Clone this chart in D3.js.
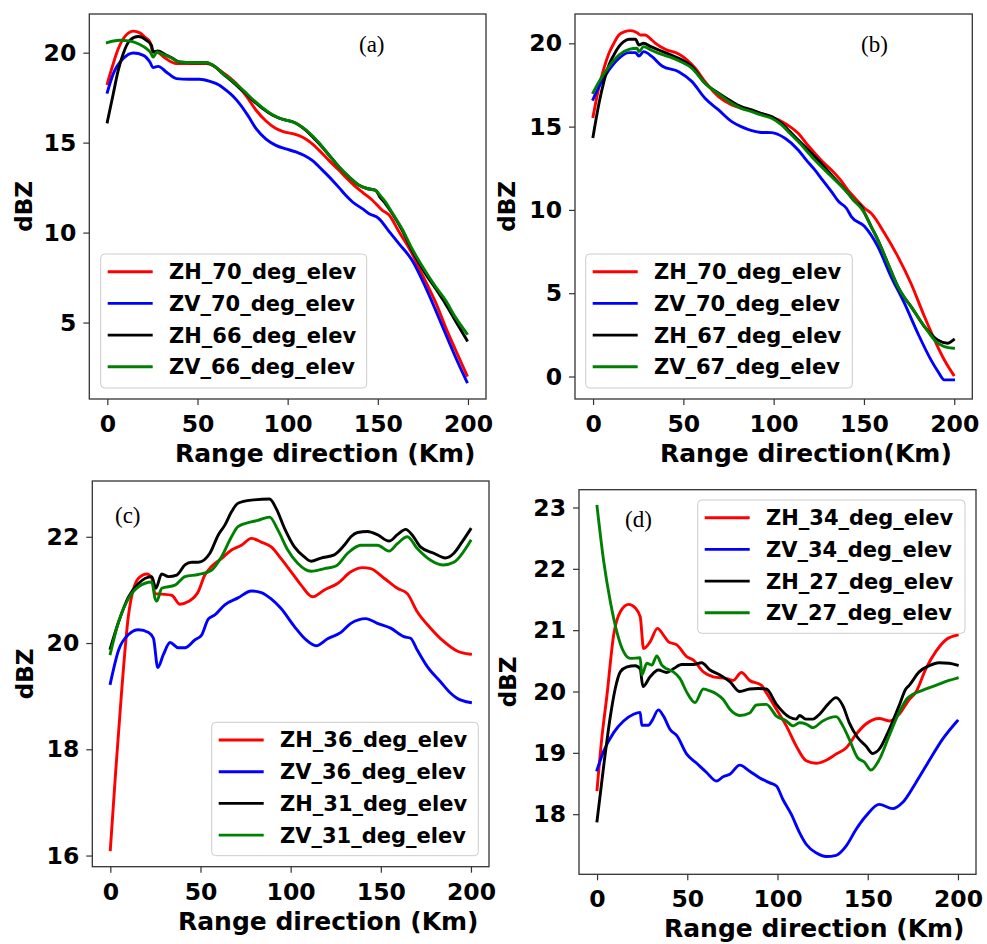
<!DOCTYPE html>
<html><head><meta charset="utf-8">
<script src="https://cdn.jsdelivr.net/npm/d3@7/dist/d3.min.js"></script>
<style>body{margin:0;background:#fff}svg{display:block}</style>
</head><body>
<svg id="chart" width="987" height="944"></svg>
<script>
// ---------- DATA (km, dBZ) ----------
const xTicks = [0, 50, 100, 150, 200];

// (a)
const aZH70 = [[0,18.28],[3,19.3],[6,20.2],[9,20.8],[14.4,21.2],[18,21.1],[21,20.85],[23.6,20.6],[25.4,20.04],[28,20.0],[32,19.7],[38.3,19.39],[45,19.39],[54.9,19.39],[60,19.2],[64,18.9],[68,18.6],[71.5,18.28],[77,17.6],[82.5,16.8],[88,16.2],[93.5,15.78],[98,15.6],[102.8,15.5],[106,15.4],[110,15.2],[114,14.9],[117.5,14.57],[123,14.0],[128.5,13.46],[133,13.0],[137.8,12.54],[142,12.2],[147,11.8],[152.5,11.24],[156,11.0],[162,10.0],[169,8.83],[173,8.0],[178,6.98],[183,5.9],[187.5,4.76],[193,3.5],[199.4,2.07]];
const aZV70 = [[0,17.8],[3.3,18.83],[8.8,19.67],[14.4,19.98],[20,19.85],[23.6,19.48],[25.4,19.17],[28.2,19.24],[33,18.9],[38.3,18.56],[45,18.52],[51.2,18.52],[57,18.4],[62.2,18.19],[66,17.9],[70,17.55],[73.3,17.17],[78,16.5],[82.5,15.78],[88,15.2],[93.5,14.85],[99,14.65],[104.6,14.48],[109,14.3],[113.8,14.0],[119,13.5],[124.9,12.9],[128.5,12.5],[132.2,12.07],[136,11.7],[141.4,11.33],[145,11.06],[150.6,10.78],[156,10.1],[161.7,9.39],[169,8.46],[176.4,6.98],[182,5.7],[187.5,4.39],[193,3.1],[199.4,1.7]];
const aZH66 = [[0,16.15],[3.3,17.72],[6,19.0],[8.8,19.94],[12.5,20.69],[17.1,20.9],[21.7,20.69],[24.5,20.4],[25.4,20.04],[28,20.1],[32,19.9],[36,19.7],[40,19.48],[47,19.44],[55,19.44],[60,19.2],[64,18.83],[68,18.5],[71.5,18.19],[76,17.8],[80.7,17.35],[86,16.9],[91.7,16.52],[97,16.3],[102.8,16.15],[106,16.0],[110,15.69],[114,15.3],[117.5,14.94],[123,14.3],[128.5,13.65],[134,13.1],[139.6,12.63],[144,12.45],[148.8,12.35],[151,12.0],[154.3,11.6],[158,11.06],[163.5,10.13],[169,9.02],[176.4,7.72],[182,6.9],[187.5,6.05],[193,5.1],[199.4,4.02]];
const aZV66 = [[0,20.56],[3.5,20.65],[7,20.69],[10.5,20.67],[14.4,20.6],[18,20.45],[21.7,20.22],[24,20.0],[25.4,19.76],[27.6,20.04],[31,19.9],[34.6,19.76],[40,19.48],[47,19.45],[55,19.44],[60,19.2],[64,18.85],[68,18.55],[71.5,18.25],[76,17.85],[80.7,17.4],[86,16.95],[91.7,16.55],[97,16.3],[102.8,16.15],[106,16.0],[110,15.72],[114,15.35],[117.5,14.98],[123,14.3],[128.5,13.65],[134,13.1],[139.6,12.63],[144,12.45],[148.8,12.35],[151,12.1],[154.3,11.7],[158,11.1],[163.5,10.2],[169,9.1],[176.4,7.85],[182,7.0],[187.5,6.25],[193,5.3],[199.4,4.39]];

// (b)
const bZH70 = [[0,15.6],[3.3,17.4],[6,18.5],[8.8,19.4],[11.5,20.0],[14.3,20.5],[17.5,20.7],[20.8,20.76],[24.4,20.64],[26.3,20.5],[29,20.5],[31.5,20.3],[34.6,20.0],[40,19.64],[47.4,19.36],[51,19.1],[56.6,18.5],[62,17.7],[69.5,16.8],[76.8,16.3],[86,16.0],[95.2,15.7],[104.4,15.3],[109,15.0],[113.6,14.6],[118,14.0],[122.8,13.4],[127,12.9],[132,12.4],[137,11.8],[141,11.2],[146,10.6],[150.4,10.1],[154,9.8],[161.4,8.6],[168.8,7.2],[176,5.6],[183.5,3.6],[190.8,1.8],[195,0.9],[199.6,0.1]];
const bZV70 = [[0,16.64],[3.3,17.4],[8.8,18.4],[14.3,19.1],[19.9,19.44],[23.5,19.44],[25.4,19.24],[28,19.5],[32.7,19.2],[38.2,18.64],[47.4,18.3],[54.8,17.7],[62,16.7],[69.5,16.0],[76.8,15.3],[82,15.0],[87.9,14.76],[93,14.65],[98.9,14.64],[106.3,14.3],[113.6,13.6],[118,13.0],[122.8,12.4],[127,11.8],[132,11.1],[136,10.5],[140.3,10.1],[143,9.6],[150.4,9.0],[157.7,7.8],[165,6.0],[172.4,4.4],[179.8,2.6],[187.1,1.0],[191,0.3],[194.5,-0.2],[199.6,-0.2]];
const bZH67 = [[0,14.4],[3.3,16.4],[6,17.7],[8.8,18.7],[11.5,19.3],[14.3,19.8],[17,20.1],[19.9,20.24],[23.5,20.24],[25.4,19.9],[28,20.0],[32,19.8],[36.4,19.6],[42,19.35],[47.4,19.1],[54.8,18.6],[62,17.6],[69.5,17.0],[76.8,16.5],[82,16.2],[87.9,16.0],[93,15.8],[98.9,15.6],[104.4,15.2],[109,14.7],[113.6,14.2],[122.8,13.2],[132,12.1],[141.2,11.0],[145,10.5],[148.5,10.2],[150.4,9.8],[154,9.0],[157.7,8.2],[163.2,6.8],[168.8,5.4],[172,4.8],[176.1,4.2],[183.5,3.0],[190.8,2.2],[196.3,2.0],[199.6,2.2]];
const bZV67 = [[0,17.04],[3.3,17.7],[8.8,18.6],[14.3,19.3],[19.9,19.64],[24.4,19.7],[25.4,19.5],[28,19.8],[32,19.6],[36.4,19.4],[42,19.2],[47.4,18.96],[54.8,18.5],[62,17.6],[69.5,16.96],[76.8,16.4],[82,16.1],[87.9,15.9],[93,15.7],[98.9,15.5],[104.4,15.1],[109,14.6],[113.6,14.1],[122.8,13.0],[132,12.0],[141.2,11.0],[145,10.5],[148.5,10.1],[150.4,9.8],[154,9.0],[157.7,8.2],[163.2,6.8],[168.8,5.4],[172,4.8],[176.1,4.2],[183.5,3.0],[190.8,2.0],[194.5,1.8],[199.6,1.7]];

// (c)
const cZH36 = [[0,16.11],[3,17.6],[6.4,19.15],[10.1,20.53],[15.6,21.22],[20.2,21.3],[23,21.22],[24.8,20.93],[28.5,20.92],[34,20.9],[38.6,20.73],[43.2,20.78],[48.8,20.97],[52.4,21.28],[56.1,21.44],[61.6,21.59],[67.2,21.75],[72.7,21.84],[78.2,21.97],[83.7,21.9],[89.2,21.81],[94.7,21.59],[100.3,21.34],[105.8,21.09],[112.2,20.87],[118.7,21.0],[126,21.12],[133.4,21.34],[139.8,21.42],[144.4,21.4],[151.8,21.22],[159.2,21.03],[164.7,20.93],[170.2,20.59],[177.6,20.28],[184.9,20.03],[192.3,19.85],[199.7,19.79]];
const cZV36 = [[0,19.24],[4.6,19.87],[10.1,20.16],[15.6,20.25],[21.2,20.2],[23.9,20.09],[26.3,19.54],[29.4,19.78],[33.1,20.01],[37.7,19.91],[41.4,19.91],[46.9,20.06],[50.6,20.15],[54.3,20.45],[58,20.53],[63.5,20.72],[70.8,20.85],[78.2,20.98],[83.7,20.95],[89.2,20.83],[94.7,20.65],[102.1,20.31],[108.6,20.06],[114.1,19.95],[120.5,20.08],[127.9,20.2],[133.4,20.37],[141.7,20.46],[148.1,20.37],[155.5,20.28],[162.8,20.12],[166.5,20.09],[170.2,19.87],[175.7,19.56],[183.1,19.27],[188.6,19.06],[192.3,18.96],[199.7,18.88]];
const cZH31 = [[0,19.9],[4.6,20.4],[10.1,20.87],[15.6,21.12],[23,21.25],[25.2,21.03],[28.5,21.3],[32.2,21.25],[36.8,21.28],[41.4,21.47],[45.1,21.52],[48.8,21.52],[55.2,21.69],[59.8,22.03],[63.5,22.22],[67.2,22.47],[70.8,22.63],[78.2,22.69],[88.3,22.71],[92,22.53],[96.6,22.16],[102.1,21.81],[107.6,21.62],[111.3,21.54],[116.8,21.6],[124.2,21.66],[129.7,21.84],[133.4,22.0],[137.1,22.08],[142.6,22.1],[148.1,22.04],[154.6,21.92],[159.2,22.04],[163.8,22.14],[167.5,22.03],[172,21.81],[179.4,21.69],[185.8,21.6],[190.5,21.69],[195,21.9],[199.7,22.14]];
const cZV31 = [[0,19.8],[4.6,20.4],[10.1,20.84],[15.6,21.06],[23,21.15],[24.8,20.84],[25.8,20.79],[28.5,21.03],[35.9,21.09],[41.4,21.25],[48.8,21.29],[56.1,21.37],[61.6,21.62],[67.2,22.0],[70.8,22.19],[78.2,22.28],[81.9,22.31],[88.3,22.37],[92.9,22.13],[98.4,21.75],[103.9,21.5],[111.3,21.35],[118.7,21.4],[125.1,21.45],[131.6,21.69],[138.9,21.84],[148.1,21.84],[154.6,21.73],[159.2,21.87],[164.7,22.0],[170.2,21.78],[177.6,21.56],[184.9,21.47],[190.5,21.52],[199.7,21.92]];

// (d)
const dZH34 = [[0,18.4],[2.5,19.2],[5.5,19.94],[9.2,20.92],[12.9,21.3],[17.5,21.42],[21.2,21.36],[23.9,21.22],[25.8,20.7],[29.4,20.81],[33.5,21.03],[36.8,20.92],[39.6,20.81],[44.2,20.76],[49.7,20.57],[53.4,20.51],[58.9,20.32],[64.4,20.24],[71.8,20.21],[75.4,20.18],[80,20.31],[84.6,20.18],[91.1,20.1],[93.8,19.98],[99.4,19.71],[104.9,19.44],[110.4,19.11],[115.9,18.87],[121.4,18.83],[127,18.88],[132.5,18.98],[138,19.08],[143.5,19.3],[149,19.47],[156.4,19.56],[161.9,19.52],[167.4,19.63],[173,19.87],[176.7,19.99],[182.2,20.37],[187.7,20.65],[194.1,20.86],[199.6,20.92]];
const dZV34 = [[0,18.72],[3.7,19.03],[9.2,19.33],[14.7,19.52],[20.2,19.63],[23.9,19.66],[24.8,19.45],[28.5,19.45],[30.4,19.52],[34,19.7],[36.8,19.6],[40.5,19.38],[44.2,19.28],[49.7,18.98],[55.2,18.83],[60.7,18.68],[66.2,18.54],[69.9,18.61],[73.6,18.65],[79.1,18.8],[84.6,18.7],[90.2,18.59],[95.7,18.51],[99.4,18.46],[103,18.24],[107.6,18.0],[112.2,17.7],[115.9,17.51],[121.4,17.37],[127,17.31],[132.5,17.33],[138,17.48],[143.5,17.75],[149,17.97],[156.4,18.16],[163.8,18.09],[169.3,18.19],[176.6,18.51],[184,18.87],[191.4,19.22],[199.6,19.52]];
const dZH27 = [[0,17.89],[3.7,18.79],[7.4,19.6],[10.1,20.05],[12.9,20.32],[16.6,20.4],[21.2,20.42],[23.9,20.37],[25.4,20.08],[29.4,20.24],[34,20.35],[38.6,20.31],[42.3,20.37],[46.9,20.44],[53.4,20.44],[58,20.47],[62.6,20.35],[68.1,20.27],[73.6,20.16],[79.1,20.0],[84.6,20.04],[89.2,20.05],[93.8,20.04],[99.4,19.79],[106.7,19.58],[110.4,19.55],[112.2,19.61],[115.9,19.55],[119.6,19.55],[123.3,19.63],[127.9,19.79],[132.5,19.9],[136.2,19.77],[139.8,19.49],[144.4,19.25],[149,19.11],[152.7,18.99],[156.4,19.06],[161.9,19.38],[167.4,19.77],[171.1,20.04],[173,20.1],[178.5,20.32],[184,20.42],[189.5,20.47],[195,20.46],[199.6,20.43]];
const dZV27 = [[0,23.02],[3.7,22.12],[7.4,21.46],[11,20.97],[14.7,20.65],[18.4,20.54],[23.9,20.55],[24.8,20.27],[27.6,20.46],[30.4,20.43],[33.1,20.58],[35.9,20.43],[38.6,20.37],[42.3,20.32],[46,20.21],[49.7,19.99],[54.3,19.82],[58.9,20.04],[62.6,20.01],[66.2,19.96],[69.9,19.87],[73.6,19.71],[79.1,19.61],[84.6,19.65],[88.3,19.78],[93.8,19.79],[99.4,19.6],[104.9,19.52],[108.6,19.44],[112.2,19.49],[115.9,19.47],[119.6,19.41],[125.1,19.52],[132.5,19.59],[136.2,19.44],[139.8,19.22],[144.4,18.92],[148.1,18.85],[151.8,18.72],[156.4,18.89],[161.9,19.28],[167.4,19.66],[172,19.89],[174.8,19.95],[180.3,20.02],[187.7,20.1],[195,20.18],[199.6,20.22]];

const yTicksA = [5, 10, 15, 20];
const yTicksB = [0, 5, 10, 15, 20];
const yTicksC = [16, 18, 20, 22];
const yTicksD = [18, 19, 20, 21, 22, 23];

const namesA = ["ZH_70_deg_elev", "ZV_70_deg_elev", "ZH_66_deg_elev", "ZV_66_deg_elev"];
const namesB = ["ZH_70_deg_elev", "ZV_70_deg_elev", "ZH_67_deg_elev", "ZV_67_deg_elev"];
const namesC = ["ZH_36_deg_elev", "ZV_36_deg_elev", "ZH_31_deg_elev", "ZV_31_deg_elev"];
const namesD = ["ZH_34_deg_elev", "ZV_34_deg_elev", "ZH_27_deg_elev", "ZV_27_deg_elev"];
const panelTags = ["(a)", "(b)", "(c)", "(d)"];
const xLabels = ["Range direction (Km)", "Range direction(Km)", "Range direction (Km)", "Range direction (Km)"];
const yLabel = "dBZ";
const colors = ["#ff0000", "#0000ff", "#000000", "#008000"];

// ---------- LAYOUT ----------
const panels = [
  {series:[aZH70,aZV70,aZH66,aZV66], names:namesA, yTicks:yTicksA, tag:panelTags[0], xl:xLabels[0],
   L:89.3,R:486,T:14,B:399, yDom:[0.75,22.15], leg:{x:100.7,y:254,w:266,h:134}, tagPos:[359,52], xlX:175, ylX:32},
  {series:[bZH70,bZV70,bZH67,bZV67], names:namesB, yTicks:yTicksB, tag:panelTags[1], xl:xLabels[1],
   L:575,R:972.3,T:14,B:399, yDom:[-1.35,21.76], leg:{x:585.7,y:254,w:266.6,h:134}, tagPos:[861,52], xlX:660, ylX:515},
  {series:[cZH36,cZV36,cZH31,cZV31], names:namesC, yTicks:yTicksC, tag:panelTags[2], xl:xLabels[2],
   L:92.3,R:489,T:481,B:866.7, yDom:[15.79,23.05], leg:{x:211.7,y:722.3,w:266.6,h:133.4}, tagPos:[115,523], xlX:178, ylX:33},
  {series:[dZH34,dZV34,dZH27,dZV27], names:namesD, yTicks:yTicksD, tag:panelTags[3], xl:xLabels[3],
   L:579,R:976,T:489.7,B:874.3, yDom:[17.02,23.29], leg:{x:697.7,y:500,w:267.3,h:133.3}, tagPos:[625,527], xlX:664, ylX:516}
];

const svg = d3.select("#chart");
const FONT = "'DejaVu Sans', sans-serif";

panels.forEach(p => {
  const x = d3.scaleLinear().domain([-10, 210]).range([p.L, p.R]);
  const y = d3.scaleLinear().domain(p.yDom).range([p.B, p.T]);
  const g = svg.append("g");

  const line = d3.line().x(d => x(d[0])).y(d => y(d[1])).curve(d3.curveMonotoneX);
  p.series.forEach((s, i) => {
    g.append("path").datum(s).attr("d", line)
      .attr("fill", "none").attr("stroke", colors[i]).attr("stroke-width", 2.9)
      .attr("stroke-linejoin", "round").attr("stroke-linecap", "square");
  });

  // axes
  const xa = g.append("g").attr("transform", `translate(0,${p.B})`)
    .call(d3.axisBottom(x).tickValues(xTicks).tickSize(6).tickPadding(5).tickFormat(d3.format("d")));
  const ya = g.append("g").attr("transform", `translate(${p.L},0)`)
    .call(d3.axisLeft(y).tickValues(p.yTicks).tickSize(6).tickPadding(7).tickFormat(d3.format("d")));
  [xa, ya].forEach(a => {
    a.select(".domain").remove();
    a.selectAll("line").attr("stroke", "#333").attr("stroke-width", 1.2);
    a.selectAll("text").attr("font-family", FONT).attr("font-weight", "bold")
      .attr("font-size", 23.5).attr("fill", "#000");
  });
  xa.selectAll("text").attr("dy", null).attr("y", 33);

  // frame
  g.append("rect").attr("x", p.L).attr("y", p.T).attr("width", p.R - p.L).attr("height", p.B - p.T)
    .attr("fill", "none").attr("stroke", "#333").attr("stroke-width", 1.3);

  // legend
  const lg = g.append("g").attr("transform", `translate(${p.leg.x},${p.leg.y})`);
  lg.append("rect").attr("width", p.leg.w).attr("height", p.leg.h).attr("rx", 4)
    .attr("fill", "rgba(255,255,255,0.8)").attr("stroke", "#cccccc").attr("stroke-width", 1);
  p.names.forEach((n, i) => {
    const cy = 17.7 + i * 31.7;
    lg.append("line").attr("x1", 7).attr("x2", 52).attr("y1", cy).attr("y2", cy)
      .attr("stroke", colors[i]).attr("stroke-width", 2.9);
    lg.append("text").attr("x", 68.3).attr("y", cy + 7.5).text(n)
      .attr("font-family", FONT).attr("font-weight", "bold").attr("font-size", 21).attr("fill", "#000");
  });

  // panel tag
  g.append("text").attr("x", p.tagPos[0]).attr("y", p.tagPos[1]).text(p.tag)
    .attr("font-family", "'Liberation Serif', serif").attr("font-size", 23).attr("fill", "#000");

  // axis labels
  g.append("text").attr("x", p.xlX).attr("y", p.B + 63).text(p.xl)
    .attr("font-family", FONT).attr("font-weight", "bold").attr("font-size", 25).attr("fill", "#000");
  g.append("text").attr("transform", `translate(${p.ylX},${(p.T + p.B) / 2}) rotate(-90)`)
    .attr("text-anchor", "middle").text(yLabel)
    .attr("font-family", FONT).attr("font-weight", "bold").attr("font-size", 23).attr("fill", "#000");
});
</script>
</body></html>
